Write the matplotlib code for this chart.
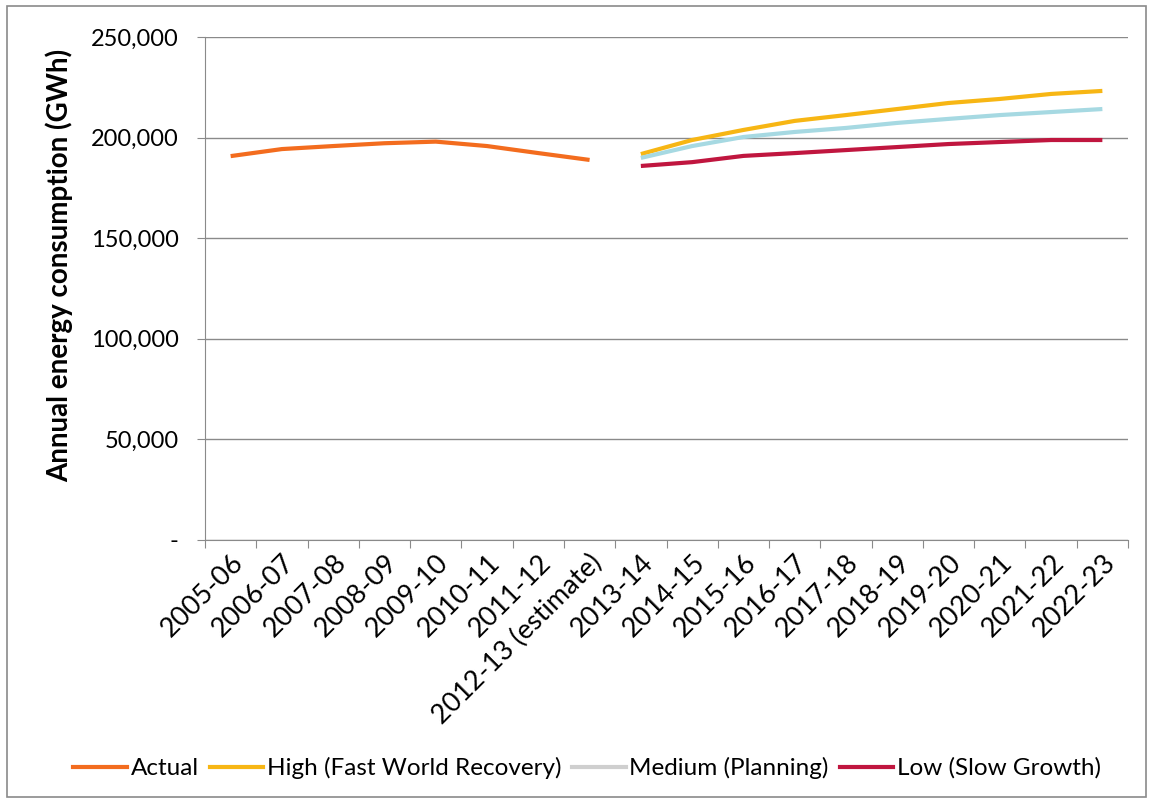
import numpy as np
import matplotlib.pyplot as plt
from matplotlib.lines import Line2D
from matplotlib.patches import Rectangle
from matplotlib.ticker import FuncFormatter

plt.rcParams['font.family'] = ['Lato', 'DejaVu Sans']

years = ["2005-06", "2006-07", "2007-08", "2008-09", "2009-10", "2010-11",
         "2011-12", "2012-13 (estimate)", "2013-14", "2014-15", "2015-16",
         "2016-17", "2017-18", "2018-19", "2019-20", "2020-21", "2021-22",
         "2022-23"]

# GWh per year
actual = [190800, 194300, 195800, 197200, 198000, 195800, 192300, 188900]
high = [191800, 198800, 203800, 208300, 211200, 214200, 217200, 219200,
        221700, 223200]
medium = [189900, 195800, 200300, 202800, 204800, 207300, 209300, 211200,
          212700, 214200]
low = [185900, 187800, 190900, 192300, 193800, 195300, 196800, 197800,
       198800, 198800]

c_actual = "#f36c1e"
c_high = "#f7b614"
c_medium = "#a6d9e2"
c_low = "#c0163f"

x = np.arange(len(years))
x_act = x[:len(actual)]
x_proj = x[len(actual):]

fig = plt.figure(figsize=(11.5, 8.02), dpi=100)
ax = fig.add_axes([205 / 1150, 1 - 540 / 802, 923 / 1150, 503 / 802])

ax.plot(x_act, actual, color=c_actual, lw=3, solid_capstyle='butt')
ax.plot(x_proj, high, color=c_high, lw=3, solid_capstyle='butt')
ax.plot(x_proj, medium, color=c_medium, lw=3, solid_capstyle='butt')
ax.plot(x_proj, low, color=c_low, lw=3, solid_capstyle='butt')

ax.set_xlim(-0.5, len(years) - 0.5)
ax.set_ylim(0, 250000)
ax.set_yticks(np.arange(0, 250001, 50000))
ax.yaxis.set_major_formatter(FuncFormatter(
    lambda v, p: "-" if v == 0 else f"{int(v):,}"))
ax.grid(axis='y', color='#8a8a8a', lw=1)
ax.set_axisbelow(True)

# category boundaries carry the ticks, labels sit at the centres
ax.set_xticks(np.arange(-0.5, len(years)), minor=False)
ax.set_xticklabels([])
ax.set_xticks(x, minor=True)
ax.set_xticklabels(years, minor=True, rotation=45, ha='right',
                   rotation_mode='anchor', fontsize=19.5)
ax.tick_params(axis='x', which='minor', length=0, pad=7)
ax.tick_params(axis='x', which='major', length=6, color='#8a8a8a')
ax.tick_params(axis='y', length=6, color='#8a8a8a', labelsize=17, pad=13)

for s in ['top', 'right']:
    ax.spines[s].set_visible(False)
ax.spines['left'].set_color('#8a8a8a')
ax.spines['bottom'].set_color('#8a8a8a')

ax.set_ylabel("Annual energy consumption (GWh)", fontsize=20,
              fontweight='bold')
ax.yaxis.set_label_coords(-0.143, 0.545)

handles = [Line2D([], [], color=c_actual, lw=3),
           Line2D([], [], color=c_high, lw=3),
           Line2D([], [], color='#cfcfcf', lw=3),
           Line2D([], [], color=c_low, lw=3)]
labels = ["Actual", "High (Fast World Recovery)", "Medium (Planning)",
          "Low (Slow Growth)"]
fig.legend(handles, labels, loc='center',
           bbox_to_anchor=(0.5 + 12 / 1150, 1 - 768 / 802),
           ncol=4, frameon=False, fontsize=17.5, handlelength=2.2,
           handletextpad=0.15, columnspacing=0.45)

fig.patches.append(Rectangle((7 / 1150, 1 - 797 / 802), 1139 / 1150,
                             791 / 802, transform=fig.transFigure,
                             fill=False, edgecolor='#8a8a8a', lw=1.2))

fig.savefig("out.png", dpi=100)
